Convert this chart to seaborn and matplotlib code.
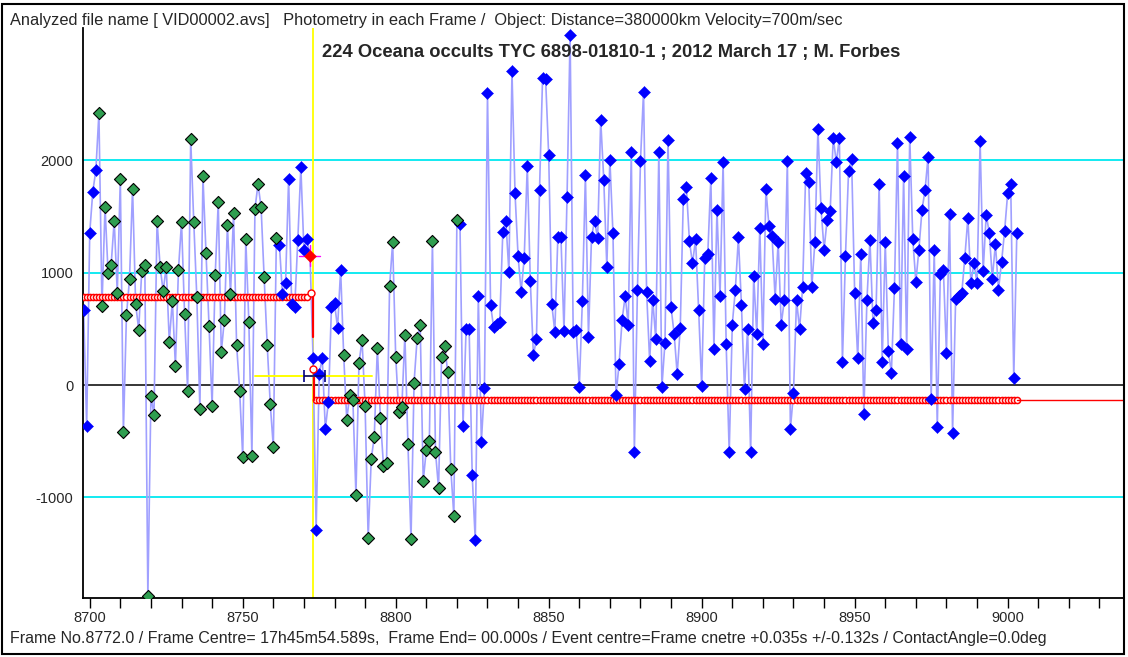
import numpy as np
import pandas as pd
import matplotlib
matplotlib.use("Agg")
import matplotlib.pyplot as plt
import seaborn as sns
from matplotlib.patches import Rectangle

# ---------------- data ----------------
first_frame = 8698
values = [
    672, -365, 1356, 1721, 1910,
    2419, 701, 1584, 998, 1069, 1464, 822, 1835, -420, 619,
    942, 1747, 724, 492, 1014, 1069, -1881, -95, -267, 1464,
    1053, 834, 1053, 385, 750, 173, 1027, 1451, 632, -52,
    2187, 1451, 782, -212, 1858, 1177, 522, -186, 975, 1627,
    293, 580, 1421, 808, 1532, 359, -52, -642, 1300, 564,
    -636, 1568, 1790, 1584, 958, 359, -170, -551, 1310, 1242,
    808, 906, 1835, 717, 694, 1288, 1940, 1206, 1297, 1144,
    238, -1294, 101, 238, -391, -153, 694, 727, 509, 1027,
    264, -308, -86, -130, -978, 196, 400, -187, -1363, -661,
    -459, 332, -296, -717, -690, 877, 1271, 252, -237, -199,
    444, -527, -1372, 21, 415, 533, -853, -578, -495, 1283,
    -593, -921, 252, 350, 113, -744, -1164, 1467, 1437, -361,
    495, 495, -800, -1384, 791, -504, -24, 2597, 714, 514,
    545, 560, 1360, 1458, 1006, 2791, 1705, 1145, 831, 1129,
    1951, 923, 268, 406, 1735, 2735, 2720, 2046, 720, 474,
    1320, 1320, 483, 1677, 3120, 468, 489, -18, 745, 1871,
    431, 1320, 1462, 1308, 2360, 1828, 1052, 2006, 1354, -92,
    185, 582, 791, 538, 2077, -594, 843, 1997, 2612, 831,
    212, 760, 406, 2077, -18, 375, 2185, 690, 455, 98,
    510, 1660, 1760, 1281, 1082, 1297, 672, -7, 1134, 1167,
    1845, 320, 1558, 795, 1982, 368, -600, 538, 848, 1314,
    711, -39, 499, -600, 971, 456, 1395, 368, 1747, 1412,
    1330, 769, 1275, 538, 753, 1998, -391, -72, 753, 499,
    874, 1891, 1809, 874, 1275, 2282, 1575, 1206, 1470, 1549,
    2201, 1982, 2201, 205, 1151, 1901, 2008, 822, 238, 1167,
    -254, 753, 1288, 548, 672, 1793, 205, 1271, 300, 111,
    864, 2158, 362, 1858, 320, 2210, 1297, 919, 1206, 1558,
    1734, 2034, -121, 1206, -378, 988, 1020, 287, 1519, -424,
    766, 792, 815, 1134, 1487, 906, 1082, 906, 2171, 1014,
    1516, 1353, 945, 1258, 848, 1092, 1369, 1705, 1793, 59, 1356,
]
frames = list(range(first_frame, first_frame + len(values)))
green_ranges = [(8703, 8761), (8783, 8820)]
event_frame = 8772

# model (red) light curve
model_pre_frames = list(range(8697, 8772))
model_pre_level = 783
model_post_frames = list(range(8774, 9004))
model_post_level = -130
model_drop1 = ([8772.9, 8772.9], [783, 430])
model_drop2 = ([8773.3, 8773.3], [104, -130])
model_circles = ([8772.2, 8773.1], [820, 140])
model_tail_end = 9040

event_line = 8773.1
yellow_bar = ([8753.9, 8792.4], 77)
navy_bar = ([8769.9, 8777.0], 77)
cross_h = ([8768.3, 8775.3], 1144)
cross_v = (8772.0, [1060, 1250])

grid_levels = [-1000, 1000, 2000]
x_major = [8700, 8750, 8800, 8850, 8900, 8950, 9000]
x_minor = list(range(8700, 9040, 10))
y_ticks = [-1000, 0, 1000, 2000]

top_text = ("Analyzed file name [ VID00002.avs]   Photometry in each Frame /  "
            "Object: Distance=380000km Velocity=700m/sec")
title_text = "224 Oceana occults TYC 6898-01810-1 ; 2012 March 17 ; M. Forbes"
bottom_text = ("Frame No.8772.0 / Frame Centre= 17h45m54.589s,  Frame End= 00.000s / "
               "Event centre=Frame cnetre +0.035s +/-0.132s / ContactAngle=0.0deg")

# ---------------- frame ----------------
df = pd.DataFrame({"frame": frames, "value": values})
kind = np.array(["blue"] * len(df), dtype=object)
for a, b in green_ranges:
    kind[(df["frame"] >= a) & (df["frame"] <= b)] = "green"
kind[df["frame"] == event_frame] = "red"
df["kind"] = kind

sns.set_style("white")
plt.rcParams["font.family"] = ["Liberation Sans", "DejaVu Sans"]

W, H = 1128, 657
fig = plt.figure(figsize=(W / 100, H / 100), dpi=100)
ax = fig.add_axes([83 / W, (H - 598) / H, (1123 - 83) / W, (598 - 28) / H])
ax.set_xlim(8697.8, 9037.7)
ax.set_ylim(-1896, 3178)

for g in grid_levels:
    ax.axhline(g, color="#00e8f0", lw=1.3, zorder=1)
ax.axhline(0, color="black", lw=1.1, zorder=1)
ax.axvline(event_line, color="#ffff00", lw=1.3, zorder=1)

sns.lineplot(data=df, x="frame", y="value", estimator=None, sort=False,
             color="#a0a0ff", lw=1.2, ax=ax, zorder=2)

# red model line
ax.plot(model_pre_frames, [model_pre_level] * len(model_pre_frames), color="red",
        lw=1.2, marker="o", ms=4.4, mfc="white", mec="red", mew=1.1, zorder=3)
ax.plot(model_post_frames, [model_post_level] * len(model_post_frames), color="red",
        lw=1.2, marker="o", ms=4.4, mfc="white", mec="red", mew=1.1, zorder=3)
ax.plot([model_post_frames[-1], model_tail_end], [model_post_level] * 2, color="red",
        lw=1.0, zorder=3)
ax.plot(*model_drop1, color="red", lw=1.6, zorder=3)
ax.plot(*model_drop2, color="red", lw=1.6, zorder=3)
ax.plot(*model_circles, ls="none", marker="o", ms=5, mfc="white", mec="red",
        mew=1.0, zorder=5)

# error bars
ax.plot(yellow_bar[0], [yellow_bar[1]] * 2, color="#ffff00", lw=1.4, zorder=3)
ax.errorbar(np.mean(navy_bar[0]), navy_bar[1], xerr=(navy_bar[0][1] - navy_bar[0][0]) / 2,
            color="#000080", lw=1.2, capsize=4, capthick=1.2, zorder=6)

ms = 38
sns.scatterplot(data=df[df["kind"] == "blue"], x="frame", y="value", marker="D",
                s=ms, color="#0000ff", edgecolor="#0000ff", linewidth=0.3,
                ax=ax, zorder=4, legend=False)
sns.scatterplot(data=df[df["kind"] == "green"], x="frame", y="value", marker="D",
                s=ms, color="#2f9e50", edgecolor="black", linewidth=0.8,
                ax=ax, zorder=4, legend=False)
sns.scatterplot(data=df[df["kind"] == "red"], x="frame", y="value", marker="D",
                s=ms, color="#ff0000", edgecolor="#ff0000", linewidth=0.3,
                ax=ax, zorder=5, legend=False)
ax.plot(cross_h[0], [cross_h[1]] * 2, color="#ff00ff", lw=1.0, zorder=4)
ax.plot([cross_v[0]] * 2, cross_v[1], color="#ff00ff", lw=1.0, zorder=4)

ax.set_xlabel("")
ax.set_ylabel("")
for s in ["top", "right"]:
    ax.spines[s].set_visible(False)
for s in ["left", "bottom"]:
    ax.spines[s].set_color("black")
    ax.spines[s].set_linewidth(1.3)

ax.set_xticks(x_minor, minor=True)
ax.set_xticks(x_major)
ax.set_xticklabels([str(v) for v in x_major])
ax.tick_params(axis="x", which="both", direction="out", length=7, width=1,
               color="black", labelsize=10.5, pad=2, bottom=True)
ax.set_yticks(y_ticks)
ax.set_yticklabels([str(v) for v in y_ticks])
ax.tick_params(axis="y", length=0, pad=7, labelsize=10.5, left=True)

fig.text(10 / W, 1 - 20 / H, top_text, fontsize=11.8, va="center", ha="left")
fig.text(322 / W, 1 - 53 / H, title_text, fontsize=13.2, fontweight="bold",
         va="center", ha="left")
fig.text(10 / W, 1 - 638 / H, bottom_text, fontsize=11.5, va="center", ha="left")

fig.patches.append(Rectangle((2 / W, 3 / H), (1124 - 2) / W, (653 - 3) / H,
                             transform=fig.transFigure, fill=False,
                             edgecolor="black", lw=1.5))

fig.savefig("out.png", dpi=100)
